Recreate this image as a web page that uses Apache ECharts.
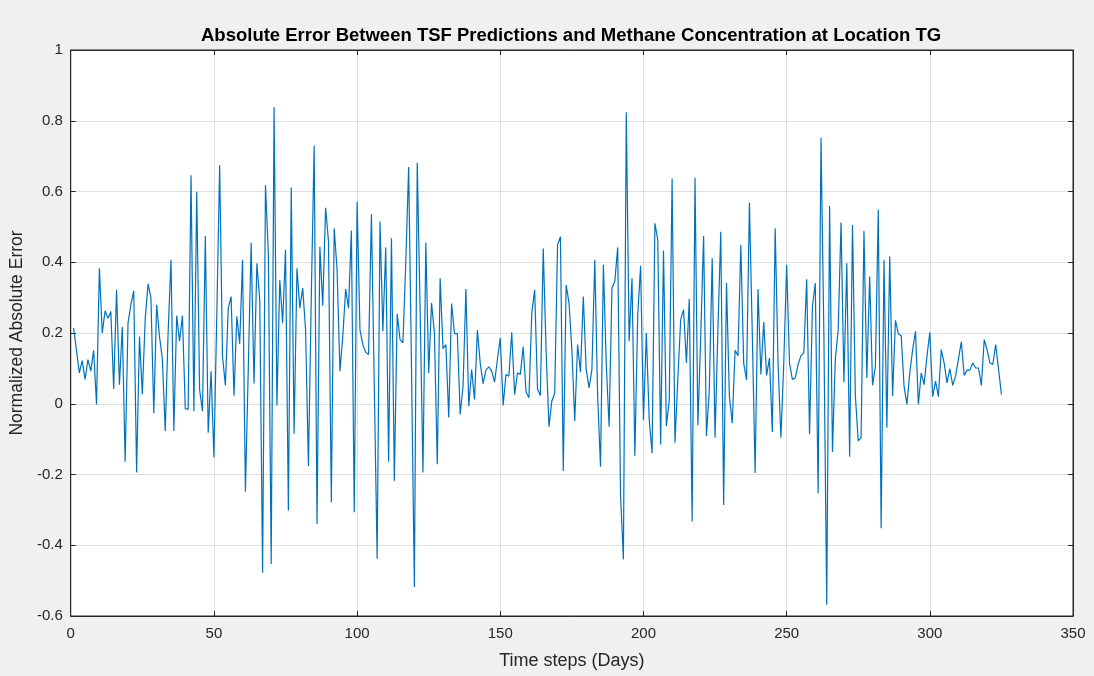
<!DOCTYPE html>
<html>
<head>
<meta charset="utf-8">
<script src="https://cdn.jsdelivr.net/npm/echarts@6/dist/echarts.min.js"></script>
<style>
  html, body { margin: 0; padding: 0; background: #f0f0f0; }
  #chart { width: 1094px; height: 676px; }
</style>
</head>
<body>
<div id="chart"></div>
<script>
// Normalized absolute error per time step (days 1..325)
const errorValues = [
  0.214, 0.15, 0.087, 0.122, 0.069, 0.125, 0.092, 0.151, -0.002, 0.383,
  0.2, 0.263, 0.242, 0.261, 0.042, 0.322, 0.054, 0.217, -0.164, 0.228,
  0.28, 0.319, -0.194, 0.19, 0.026, 0.24, 0.339, 0.3, -0.027, 0.28,
  0.19, 0.125, -0.077, 0.2, 0.407, -0.077, 0.249, 0.177, 0.249, -0.014,
  -0.016, 0.646, -0.021, 0.599, 0.04, -0.021, 0.474, -0.082, 0.092, -0.152,
  0.25, 0.674, 0.134, 0.052, 0.27, 0.303, 0.023, 0.247, 0.17, 0.407,
  -0.249, 0.1, 0.455, 0.057, 0.397, 0.294, -0.478, 0.618, 0.425, -0.453,
  0.838, -0.005, 0.35, 0.228, 0.435, -0.302, 0.611, -0.085, 0.383, 0.27,
  0.327, 0.21, -0.176, 0.3, 0.73, -0.34, 0.444, 0.277, 0.554, 0.46,
  -0.279, 0.496, 0.38, 0.092, 0.19, 0.324, 0.27, 0.49, -0.307, 0.571,
  0.209, 0.167, 0.146, 0.139, 0.536, 0.05, -0.438, 0.515, 0.205, 0.442,
  -0.164, 0.468, -0.218, 0.254, 0.181, 0.172, 0.4, 0.669, 0.1, -0.518,
  0.681, 0.27, -0.194, 0.456, 0.087, 0.285, 0.2, -0.171, 0.355, 0.156,
  0.167, -0.039, 0.283, 0.198, 0.198, -0.03, 0.05, 0.324, -0.007, 0.097,
  0.012, 0.208, 0.115, 0.057, 0.095, 0.104, 0.092, 0.061, 0.125, 0.186,
  -0.005, 0.083, 0.078, 0.202, 0.026, 0.087, 0.083, 0.161, 0.033, 0.017,
  0.256, 0.322, 0.042, 0.023, 0.439, 0.15, -0.065, 0.008, 0.029, 0.449,
  0.472, -0.19, 0.336, 0.285, 0.153, -0.049, 0.167, 0.089, 0.303, 0.097,
  0.045, 0.097, 0.407, 0.022, -0.178, 0.393, 0.115, -0.065, 0.327, 0.346,
  0.442, -0.26, -0.44, 0.824, 0.177, 0.355, -0.147, 0.25, 0.39, -0.046,
  0.2, -0.044, -0.14, 0.51, 0.463, -0.115, 0.433, -0.063, 0.008, 0.637,
  -0.11, 0.069, 0.238, 0.266, 0.115, 0.296, -0.333, 0.639, -0.061, 0.19,
  0.474, -0.091, 0.04, 0.411, -0.096, 0.21, 0.486, -0.286, 0.341, 0.022,
  -0.055, 0.151, 0.136, 0.449, 0.115, 0.067, 0.568, 0.2, -0.196, 0.324,
  0.083, 0.231, 0.08, 0.129, -0.08, 0.496, 0.115, -0.096, 0.115, 0.393,
  0.115, 0.069, 0.073, 0.111, 0.136, 0.144, 0.352, -0.086, 0.275, 0.341,
  -0.253, 0.752, 0.2, -0.568, 0.559, -0.136, 0.125, 0.209, 0.512, 0.061,
  0.397, -0.15, 0.505, 0.022, -0.105, -0.096, 0.488, 0.073, 0.36, 0.052,
  0.106, 0.549, -0.352, 0.407, -0.068, 0.416, 0.022, 0.236, 0.198, 0.192,
  0.05, -0.002, 0.087, 0.153, 0.205, -0.002, 0.087, 0.054, 0.134, 0.202,
  0.02, 0.064, 0.02, 0.153, 0.115, 0.059, 0.099, 0.052, 0.078, 0.127,
  0.175, 0.08, 0.095, 0.095, 0.115, 0.101, 0.101, 0.052, 0.181, 0.153,
  0.115, 0.111, 0.167, 0.097, 0.026
];
const firstStep = 1;

const titleText = 'Absolute Error Between TSF Predictions and Methane Concentration at Location TG';
const xAxisTitle = 'Time steps (Days)';
const yAxisTitle = 'Normalized Absolute Error';
const xRange = [0, 350, 50];
const yRange = [-0.6, 1, 0.2];

const points = errorValues.map((v, i) => [firstStep + i, v]);

const axisColor = '#262626';
const gridColor = '#dfdfdf';
const fontFamily = 'Liberation Sans, Arial, Helvetica, sans-serif';

const chart = echarts.init(document.getElementById('chart'), null, { renderer: 'canvas' });

const baseX = {
  type: 'value', min: xRange[0], max: xRange[1], interval: xRange[2],
  axisLine: { show: true, onZero: false, lineStyle: { color: axisColor, width: 1 } },
  axisTick: { show: true, inside: true, length: 5, lineStyle: { color: axisColor } }
};
const baseY = {
  type: 'value', min: yRange[0], max: yRange[1], interval: yRange[2],
  axisLine: { show: true, onZero: false, lineStyle: { color: axisColor, width: 1 } },
  axisTick: { show: true, inside: true, length: 5, lineStyle: { color: axisColor } }
};

chart.setOption({
  backgroundColor: '#f0f0f0',
  animation: false,
  // title sits centred over the plot box rather than the whole canvas
  title: {
    text: titleText,
    left: 196,
    top: 21,
    textStyle: { fontFamily, fontSize: 18.5, fontWeight: 'bold', color: '#000' }
  },
  grid: {
    left: 70, right: 21, top: 50, bottom: 60,
    show: true, backgroundColor: '#ffffff', borderColor: axisColor, borderWidth: 1
  },
  xAxis: [
    Object.assign({}, baseX, {
      position: 'bottom',
      name: xAxisTitle, nameLocation: 'middle', nameGap: 36,
      nameTextStyle: { fontFamily, fontSize: 18, color: axisColor },
      axisLabel: { show: true, margin: 10, fontFamily, fontSize: 15, color: axisColor },
      splitLine: { show: true, lineStyle: { color: gridColor, width: 1 } }
    }),
    Object.assign({}, baseX, {
      position: 'top',
      axisLabel: { show: false },
      splitLine: { show: false }
    })
  ],
  yAxis: [
    Object.assign({}, baseY, {
      position: 'left',
      name: yAxisTitle, nameLocation: 'middle', nameGap: 43,
      nameTextStyle: { fontFamily, fontSize: 17.5, color: axisColor },
      axisLabel: {
        show: true, margin: 8, fontFamily, fontSize: 15, color: axisColor,
        formatter: v => String(Math.round(v * 10) / 10)
      },
      splitLine: { show: true, lineStyle: { color: gridColor, width: 1 } }
    }),
    Object.assign({}, baseY, {
      position: 'right',
      axisLabel: { show: false },
      splitLine: { show: false }
    })
  ],
  series: [{
    type: 'line',
    data: points,
    xAxisIndex: 0,
    yAxisIndex: 0,
    showSymbol: false,
    symbol: 'none',
    lineStyle: { color: '#0072BD', width: 1.2 },
    emphasis: { disabled: true }
  }]
});
</script>
</body>
</html>
